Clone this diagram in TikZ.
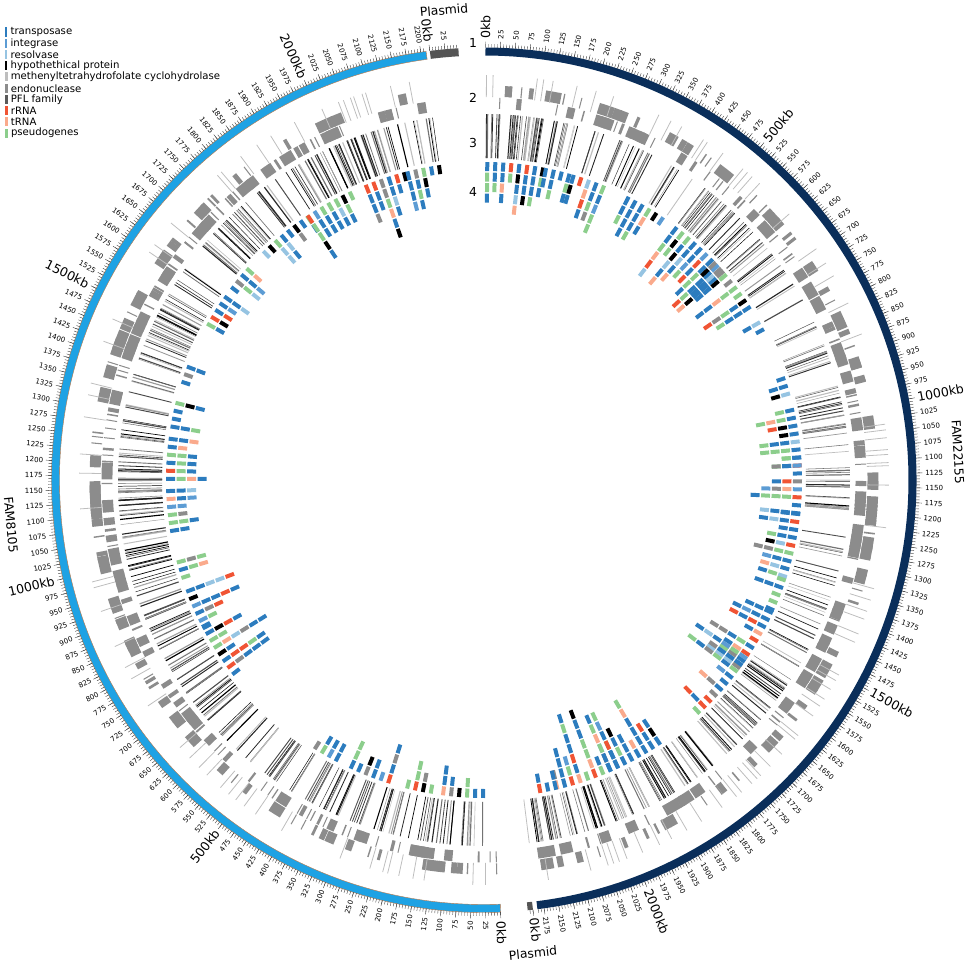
\documentclass[tikz,border=0pt]{standalone}
\usepackage{fontspec}
\setmainfont{DejaVu Sans}
\usetikzlibrary{positioning}

\definecolor{navyring}{RGB}{10,46,90}
\definecolor{skyring}{RGB}{30,162,228}
\definecolor{ringedge}{RGB}{190,120,70}
\definecolor{plasgray}{RGB}{85,85,85}
\definecolor{tpase}{RGB}{44,124,190}
\definecolor{integ}{RGB}{92,156,212}
\definecolor{resolv}{RGB}{150,196,226}
\definecolor{hypo}{RGB}{0,0,0}
\definecolor{methyl}{RGB}{190,190,190}
\definecolor{endo}{RGB}{140,140,140}
\definecolor{pfl}{RGB}{90,90,90}
\definecolor{rrna}{RGB}{240,84,52}
\definecolor{trna}{RGB}{250,170,140}
\definecolor{pseudo}{RGB}{140,206,140}
\definecolor{blockgray}{RGB}{140,140,140}

\begin{document}
\begin{tikzpicture}[scale=0.02636]
\pgfmathsetseed{2155}

% Define styles
\tikzstyle{kbtick} = [draw=black!75, line width=0.3pt]
\tikzstyle{kblabel} = [inner sep=0pt, font=\fontsize{5.3}{6}\selectfont]
\tikzstyle{kbbig} = [inner sep=0pt, font=\fontsize{9.4}{11}\selectfont]
\tikzstyle{chromlabel} = [inner sep=0pt, font=\fontsize{9.3}{11}\selectfont]
\tikzstyle{genetile} = [line width=3pt]
\tikzstyle{geneline} = [line width=0.45pt]
\tikzstyle{grayblock} = [blockgray, line width=8.2pt]
\tikzstyle{thinblock} = [methyl, line width=0.6pt]
\tikzstyle{legbar} = [minimum width=2pt, minimum height=6.8pt, inner sep=0pt]
\tikzstyle{legtext} = [inner sep=0pt, anchor=west, font=\fontsize{7.6}{9}\selectfont]

\useasboundingbox (-484,-483) rectangle (486,480);

\pgfmathdeclarerandomlist{genes}{{tpase}{tpase}{tpase}{tpase}{tpase}{tpase}{tpase}{pseudo}{pseudo}{pseudo}{integ}{resolv}{hypo}{endo}{rrna}{trna}}
\pgfmathdeclarerandomlist{shades}{{black}{black!85}{black!70}{black!55}{black!40}{black!25}}

% Ideograms
\fill[navyring] (89.8:424.5) arc[start angle=89.8, end angle=-82.9, radius=424.5] -- (-82.9:432.5) arc[start angle=-82.9, end angle=89.8, radius=432.5] -- cycle;
\filldraw[fill=skyring, draw=ringedge, line width=0.3pt] (272.2:424.5) arc[start angle=272.2, end angle=97.7, radius=424.5] -- (97.7:432.5) arc[start angle=97.7, end angle=272.2, radius=432.5] -- cycle;
\fill[plasgray] (97.2:424.5) arc[start angle=97.2, end angle=93.4, radius=424.5] -- (93.4:432.5) arc[start angle=93.4, end angle=97.2, radius=432.5] -- cycle;
\fill[plasgray] (-83.5:424.5) arc[start angle=-83.5, end angle=-84.2, radius=424.5] -- (-84.2:432.5) arc[start angle=-84.2, end angle=-83.5, radius=432.5] -- cycle;

% Ticks and labels of both chromosomes
\foreach \start/\len/\last in {89.8/2185/2175, 272.2/2205/2200} {
  \foreach \kb in {0,5,...,\len}
    \draw[kbtick] ({\start-0.079*\kb}:432.5) -- ({\start-0.079*\kb}:436);
  \foreach \kb in {0,25,...,\last} {
    \pgfmathsetmacro{\ang}{\start-0.079*\kb}
    \pgfmathtruncatemacro{\m}{mod(\kb,500)}
    \pgfmathtruncatemacro{\f}{cos(\ang)<0}
    \draw[kbtick] (\ang:432.5) -- (\ang:438.5);
    \ifnum\f=1 \def\rot{\ang+180}\def\anc{east}\else\def\rot{\ang}\def\anc{west}\fi
    \ifnum\m=0 \node[kbbig, anchor=\anc, rotate=\rot] at (\ang:441) {\kb kb};
    \else \node[kblabel, anchor=\anc, rotate=\rot] at (\ang:441) {\kb}; \fi
  }
}

% Plasmid ticks
\foreach \start/\len in {97.2/45, -83.5/5}
  \foreach \kb in {0,5,...,\len}
    \draw[kbtick] ({\start-0.079*\kb}:432.5) -- ({\start-0.079*\kb}:436);
\draw[kbtick] (97.2:432.5) -- (97.2:438.5);
\draw[kbtick] (95.2:432.5) -- (95.2:438.5);
\draw[kbtick] (-83.5:432.5) -- (-83.5:438.5);
\node[kbbig, anchor=east, rotate=277.2] (plasa0) at (97.2:441) {0kb};
\node[kblabel, anchor=east, rotate=275.2] (plasa25) at (95.2:441) {25};
\node[kbbig, anchor=west, rotate=-83.5] (plasb0) at (-83.5:441) {0kb};

% Track 2: gray blocks
\foreach \start/\n in {89.8/196, 272.2/198} {
  \foreach \i in {0,...,\n} {
    \pgfmathsetmacro{\p}{\start-0.079*(11*\i+6*rnd)}
    \pgfmathsetmacro{\w}{0.15+2.6*pow(rnd,3)}
    \pgfmathtruncatemacro{\s}{random(0,9)}
    \ifnum\s<4 \draw[grayblock] (\p:389) arc[start angle=\p, end angle=\p-\w, radius=389]; \fi
    \ifnum\s>2 \ifnum\s<8 \draw[grayblock] (\p:377) arc[start angle=\p, end angle=\p-\w, radius=377]; \fi\fi
    \ifnum\s>6 \draw[thinblock] (\p:383) -- (\p:405); \fi
  }
}

% Track 3: gene lines
\foreach \start/\n in {89.8/145, 272.2/146} {
  \foreach \i in {0,...,\n} {
    \pgfmathtruncatemacro{\dens}{random(0,9)}
    \foreach \j in {1,...,5} {
      \pgfmathtruncatemacro{\s}{random(0,9)}
      \ifnum\s<\dens
        \pgfmathsetmacro{\p}{\start-0.079*(15*\i+15*rnd)}
        \pgfmathsetmacro{\lw}{0.3+0.6*rnd}
        \pgfmathrandomitem{\shd}{shades}
        \draw[geneline, draw=\shd, line width=\lw pt] (\p:322) -- (\p:366);
      \fi
    }
  }
}

% Track 4: gene tiles
\foreach \start/\kb/\ncol/\nrow in {89.8/5/8/6, 89.8/140/4/3, 89.8/205/5/5, 89.8/340/6/5, 89.8/470/9/6, 89.8/590/8/6, 89.8/760/2/2, 89.8/900/3/2, 89.8/975/8/4, 89.8/1085/8/5, 89.8/1215/9/4, 89.8/1370/5/3, 89.8/1450/9/5, 89.8/1570/10/6, 89.8/1850/8/7, 89.8/1960/9/7, 89.8/2110/3/2,
  272.2/30/6/4, 272.2/150/4/3, 272.2/250/6/4, 272.2/380/4/3, 272.2/690/8/6, 272.2/815/6/5, 272.2/940/3/3, 272.2/1050/6/3, 272.2/1170/6/4, 272.2/1290/4/3, 272.2/1395/3/2, 272.2/1540/5/4, 272.2/1640/4/3, 272.2/1750/8/5, 272.2/1880/7/5, 272.2/2030/6/6, 272.2/2130/5/4} {
  \foreach \cl in {1,...,\ncol} {
    \pgfmathsetmacro{\p}{\start-0.079*\kb-1.45*(\cl-1)}
    \pgfmathtruncatemacro{\rows}{random(1,\nrow)}
    \foreach \row in {1,...,\rows} {
      \pgfmathrandomitem{\gc}{genes}
      \draw[genetile, draw=\gc] (\p:{318-10.5*(\row-1)}) -- (\p:{309-10.5*(\row-1)});
    }
  }
}

% Track numbers and names
\node[chromlabel] (trk1) at (-11,437) {1};
\node[chromlabel] (trk2) at (-11,382) {2};
\node[chromlabel] (trk3) at (-11,337) {3};
\node[chromlabel] (trk4) at (-11,288) {4};
\node[chromlabel, rotate=-86.6] (fam22155) at (474,28) {FAM22155};
\node[chromlabel, rotate=-84.6] (fam8105) at (-473,-45) {FAM8105};
\node[chromlabel, rotate=5] (plasmidtop) at (-40,470) {Plasmid};
\node[chromlabel, rotate=6] (plasmidbot) at (49,-473) {Plasmid};

% Legend
\node[legbar, fill=tpase] (legtpase) at (-478,448) {};
\node[legbar, fill=integ, below=1.2pt of legtpase] (leginteg) {};
\node[legbar, fill=resolv, below=1.2pt of leginteg] (legresolv) {};
\node[legbar, fill=hypo, below=1.2pt of legresolv] (leghypo) {};
\node[legbar, fill=methyl, below=1.2pt of leghypo] (legmethyl) {};
\node[legbar, fill=endo, below=1.2pt of legmethyl] (legendo) {};
\node[legbar, fill=pfl, below=1.2pt of legendo] (legpfl) {};
\node[legbar, fill=rrna, below=1.2pt of legpfl] (legrrna) {};
\node[legbar, fill=trna, below=1.2pt of legrrna] (legtrna) {};
\node[legbar, fill=pseudo, below=1.2pt of legtrna] (legpseudo) {};
\node[legtext, right=2pt of legtpase] {transposase};
\node[legtext, right=2pt of leginteg] {integrase};
\node[legtext, right=2pt of legresolv] {resolvase};
\node[legtext, right=2pt of leghypo] {hypothethical protein};
\node[legtext, right=2pt of legmethyl] {methenyltetrahydrofolate cyclohydrolase};
\node[legtext, right=2pt of legendo] {endonuclease};
\node[legtext, right=2pt of legpfl] {PFL family};
\node[legtext, right=2pt of legrrna] {rRNA};
\node[legtext, right=2pt of legtrna] {tRNA};
\node[legtext, right=2pt of legpseudo] {pseudogenes};

\end{tikzpicture}
\end{document}
